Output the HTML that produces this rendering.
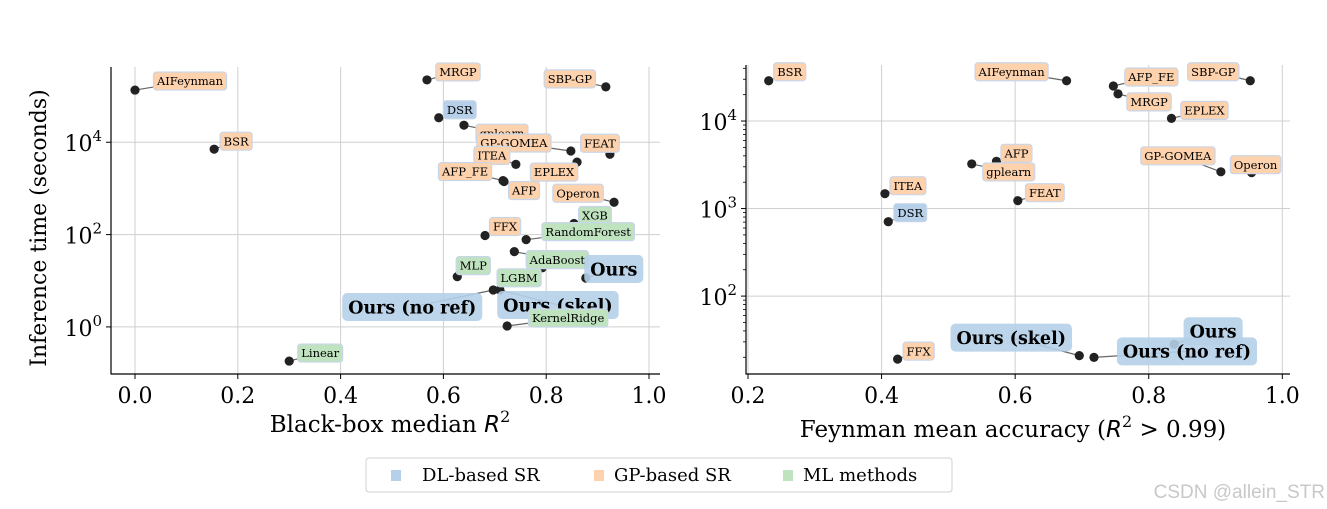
<!DOCTYPE html>
<html><head><meta charset="utf-8">
<style>
html,body{margin:0;padding:0;background:#fff;}
svg{display:block;font-family:"DejaVu Serif","Liberation Serif",serif;}
</style></head>
<body>
<svg id="fig" width="1327" height="509" viewBox="0 0 1327 509" xmlns="http://www.w3.org/2000/svg">
<rect x="0" y="0" width="1327" height="509" fill="#fff"/>
<g id="left"></g>
<g id="right"></g>
<text x="38" y="220" font-size="22" text-anchor="middle" transform="rotate(-90 46 220)">Inference time (seconds)</text>
<text x="390" y="432" font-size="23" text-anchor="middle">Black-box median <tspan font-style="italic" font-family="DejaVu Sans, sans-serif">R</tspan><tspan font-size="16" dy="-10">2</tspan></text>
<text x="1013" y="437" font-size="23" text-anchor="middle">Feynman mean accuracy (<tspan font-style="italic" font-family="DejaVu Sans, sans-serif">R</tspan><tspan font-size="16" dy="-10">2</tspan><tspan dy="10"> &gt; 0.99)</tspan></text>
<g>
<rect x="366" y="458" width="586" height="34" rx="3" fill="#fff" stroke="#d0d0d0"/>
<rect x="391" y="470" width="10" height="11" fill="#b5d0e8"/>
<text x="422" y="481" font-size="18">DL-based SR</text>
<rect x="594" y="470" width="10" height="11" fill="#fdd2ad"/>
<text x="614" y="481" font-size="18">GP-based SR</text>
<rect x="783" y="470" width="10" height="11" fill="#bfe2bf"/>
<text x="803" y="481" font-size="18">ML methods</text>
</g>
<text x="1325" y="498" font-size="19" text-anchor="end" fill="#c8c8c8" font-family="Liberation Sans, sans-serif">CSDN @allein_STR</text>
</svg>
<script>
// ---- left chart data ----
const leftNames = ["AIFeynman","MRGP","SBP-GP","DSR","gplearn","BSR","GP-GOMEA","FEAT","EPLEX","ITEA","AFP_FE","AFP","Operon","XGB","FFX","RandomForest","AdaBoost","LGBM","MLP","Ours","Ours (no ref)","Ours (skel)","KernelRidge","Linear"];
const leftGroup = ["gp","gp","gp","dl","gp","gp","gp","gp","gp","gp","gp","gp","gp","ml","gp","ml","ml","ml","ml","dl","dl","dl","ml","ml"];
const leftR2 = [0.0,0.568,0.916,0.591,0.64,0.154,0.848,0.924,0.86,0.741,0.716,0.718,0.932,0.854,0.681,0.761,0.738,0.792,0.627,0.877,0.697,0.71,0.724,0.3];
const leftLogT = [5.13,5.35,5.2,4.53,4.37,3.85,3.81,3.74,3.57,3.52,3.17,3.15,2.70,2.24,1.98,1.89,1.63,1.28,1.09,1.06,0.80,0.80,0.02,-0.74];
// label offsets (px, styling)
const leftOff = [[55,-9],[31,-8],[-36,-8],[21,-8],[38,8],[22,-8],[-57,-8],[-10,-11],[-23,10],[-24,-9],[-38,-9],[20,9],[-36,-9],[21,-8],[20,-9],[62,-8],[43,8],[-23,10],[16,-11],[28,-9],[-81,17],[58,15],[61,-8],[31,-8]];
// ---- right chart data ----
const rightNames = ["BSR","AIFeynman","AFP_FE","SBP-GP","MRGP","EPLEX","AFP","gplearn","GP-GOMEA","Operon","ITEA","FEAT","DSR","FFX","Ours (skel)","Ours (no ref)","Ours"];
const rightGroup = ["gp","gp","gp","gp","gp","gp","gp","gp","gp","gp","gp","gp","dl","gp","dl","dl","dl"];
const rightAcc = [0.231,0.677,0.747,0.952,0.754,0.834,0.572,0.535,0.908,0.954,0.405,0.604,0.41,0.424,0.696,0.718,0.838];
const rightLogT = [4.46,4.46,4.40,4.46,4.31,4.03,3.54,3.51,3.42,3.41,3.17,3.09,2.85,1.28,1.32,1.30,1.45];
const rightOff = [[21,-9],[-55,-9],[38,-9],[-37,-9],[31,8],[33,-8],[20,-8],[37,8],[-43,-16],[4,-8],[23,-8],[27,-8],[22,-9],[21,-8],[-68,-18],[93,-6],[39,-13]];

const NS="http://www.w3.org/2000/svg";
const FILL={dl:"#b5d0e8",gp:"#fdd2ad",ml:"#bfe2bf"};
function mk(parent,tag,attrs){const e=document.createElementNS(NS,tag);for(const k in attrs)e.setAttribute(k,attrs[k]);parent.appendChild(e);return e;}

function drawChart(g,cfg){
  const {x0,x1,y0,y1,xmin,xmax,lmin,lmax,xticks,yticks,minor,names,groups,xs,ls,offs,ylabX}=cfg;
  const sx=v=>x0+(v-xmin)/(xmax-xmin)*(x1-x0);
  const sy=v=>y1-(v-lmin)/(lmax-lmin)*(y1-y0);
  xticks.forEach(t=>{const l=mk(g,'line',{x1:sx(t),x2:sx(t),y1:y0,y2:y1,stroke:'#cfcfcf','stroke-width':1});
    
    
    mk(g,'line',{x1:sx(t),x2:sx(t),y1:y1,y2:y1+5,stroke:'#000','stroke-width':1});
    const tx=mk(g,'text',{x:sx(t),y:y1+29,'font-size':22,'text-anchor':'middle'});tx.textContent=t.toFixed(1);
    
    });
  yticks.forEach(t=>{const l=mk(g,'line',{x1:x0,x2:x1,y1:sy(t),y2:sy(t),stroke:'#cfcfcf','stroke-width':1});
    
    
    mk(g,'line',{x1:x0-5,x2:x0,y1:sy(t),y2:sy(t),stroke:'#000','stroke-width':1});
    const tx=mk(g,'text',{x:ylabX,y:sy(t)+9,'font-size':22,'text-anchor':'end'});
    
    
    tx.innerHTML='10<tspan font-size="15" dy="-10">'+t+'</tspan>';});
  if(minor){for(let d=Math.floor(lmin);d<=Math.ceil(lmax);d++){for(let m=2;m<10;m++){const v=d+Math.log10(m);if(v>lmin&&v<lmax)mk(g,'line',{x1:x0-3,x2:x0,y1:sy(v),y2:sy(v),stroke:'#000','stroke-width':0.8});}}}
  mk(g,'line',{x1:x0,x2:x0,y1:y0,y2:y1+0.5,stroke:'#000','stroke-width':1.2});
  mk(g,'line',{x1:x0,x2:x1,y1:y1,y2:y1,stroke:'#000','stroke-width':1.2});
  const lines=mk(g,'g',{}), pts=mk(g,'g',{}), labs=mk(g,'g',{});
  names.forEach((n,i)=>{
    const px=sx(xs[i]), py=sy(ls[i]);
    const cx=px+offs[i][0], cy=py+offs[i][1];
    const big=n.startsWith('Ours');
    const ln=mk(lines,'line',{x1:px,y1:py,x2:cx,y2:cy,stroke:'#666','stroke-width':1.2});
    
    
    const c=mk(pts,'circle',{cx:px,cy:py,r:4.6,fill:'#222'});
    
    
    const lg=mk(labs,'g',{});
    
    
    const fs=big?17.5:11.5;
    const rect=mk(lg,'rect',{fill:FILL[groups[i]],stroke:big?'none':'#c9d6ea','stroke-width':1.2,rx:big?5:3,opacity:big?0.9:1});
    const t=mk(lg,'text',{x:cx,y:cy+fs*0.36,'font-size':fs,'text-anchor':'middle','font-weight':big?'bold':'normal'});
    t.textContent=n;
    const w=t.getComputedTextLength();
    const pad=big?6:3.5, h=big?28:18;
    rect.setAttribute('x',cx-w/2-pad);rect.setAttribute('y',cy-h/2);
    rect.setAttribute('width',w+2*pad);rect.setAttribute('height',h);
  });
}
drawChart(document.getElementById('left'),{x0:111,x1:660,y0:67,y1:374,xmin:-0.0467,xmax:1.0214,lmin:-1.02,lmax:5.63,
  xticks:[0,0.2,0.4,0.6,0.8,1.0],yticks:[0,2,4],minor:false,names:leftNames,groups:leftGroup,xs:leftR2,ls:leftLogT,offs:leftOff,ylabX:102});
drawChart(document.getElementById('right'),{x0:746,x1:1290,y0:65,y1:374,xmin:0.197,xmax:1.0115,lmin:1.11,lmax:4.64,
  xticks:[0.2,0.4,0.6,0.8,1.0],yticks:[2,3,4],minor:true,names:rightNames,groups:rightGroup,xs:rightAcc,ls:rightLogT,offs:rightOff,ylabX:737});
</script>
</body></html>
